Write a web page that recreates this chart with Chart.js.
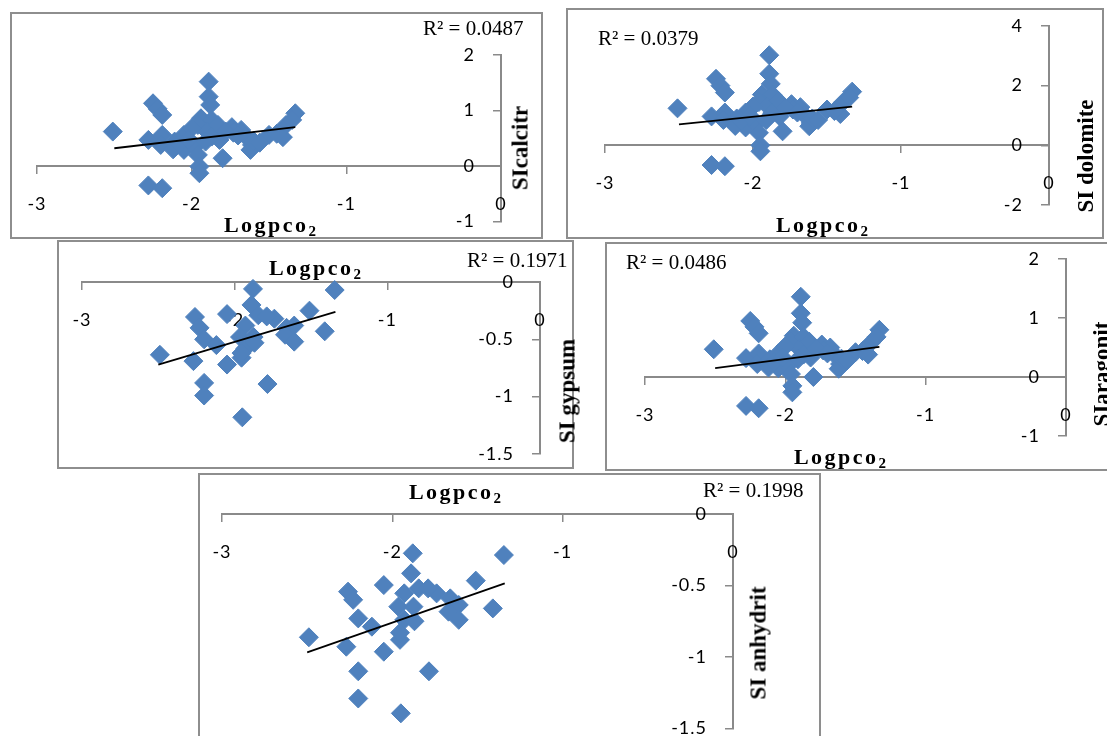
<!DOCTYPE html>
<html><head><meta charset="utf-8">
<script src="https://cdn.jsdelivr.net/npm/chart.js@4.4.1/dist/chart.umd.min.js"></script>
<style>
html,body{margin:0;padding:0;background:#fff;width:1107px;height:736px;overflow:hidden;position:relative}
.box{position:absolute;border:2px solid #8e8e8e;box-sizing:border-box;background:#fff}
canvas.layer{position:absolute;left:-200px;top:-200px}
.r2{position:absolute;font-family:"Liberation Serif",serif;font-size:21px;color:#000;white-space:nowrap;line-height:1}
.xt{position:absolute;font-family:"Liberation Serif",serif;font-weight:bold;font-size:22px;letter-spacing:2.5px;white-space:nowrap;line-height:1;transform:translate(-50%,-50%)}
.xt sub{font-size:15px;vertical-align:-4px;letter-spacing:0}
.yt{position:absolute;font-family:"Liberation Serif",serif;font-weight:bold;font-size:23px;white-space:nowrap;line-height:1;transform:translate(-50%,-50%) rotate(-90deg)}
</style></head>
<body>
<div class="box" style="left:10px;top:12px;width:533px;height:227px"></div>
<div class="box" style="left:566px;top:8px;width:538px;height:231px"></div>
<div class="box" style="left:57px;top:240px;width:517px;height:229px"></div>
<div class="box" style="left:605px;top:242px;width:510px;height:229px"></div>
<div class="box" style="left:198px;top:473px;width:623px;height:280px"></div>
<canvas class="layer" id="cA" width="1507" height="1136"></canvas>
<canvas class="layer" id="cB" width="1507" height="1136"></canvas>
<canvas class="layer" id="cC" width="1507" height="1136"></canvas>
<canvas class="layer" id="cD" width="1507" height="1136"></canvas>
<canvas class="layer" id="cE" width="1507" height="1136"></canvas>

<div class="r2" style="left:423px;top:18px">R² = 0.0487</div>
<div class="r2" style="left:598px;top:28px">R² = 0.0379</div>
<div class="r2" style="left:467px;top:250px">R² = 0.1971</div>
<div class="r2" style="left:626px;top:252px">R² = 0.0486</div>
<div class="r2" style="left:703px;top:480px">R² = 0.1998</div>

<div class="xt" style="left:270px;top:226px">Logpco<sub>2</sub></div>
<div class="xt" style="left:822px;top:226px">Logpco<sub>2</sub></div>
<div class="xt" style="left:315px;top:269px">Logpco<sub>2</sub></div>
<div class="xt" style="left:840px;top:458px">Logpco<sub>2</sub></div>
<div class="xt" style="left:455px;top:493px">Logpco<sub>2</sub></div>

<div class="yt" style="left:520px;top:148px">SIcalcitr</div>
<div class="yt" style="left:1085px;top:156px">SI dolomite</div>
<div class="yt" style="left:567px;top:391px">SI gypsum</div>
<div class="yt" style="left:1101px;top:374px">SIaragonit</div>
<div class="yt" style="left:758px;top:643px">SI anhydrit</div>

<script>
// ---- data ----
const logpco2Carb = [-2.51,-2.25,-2.22,-2.19,-2.28,-2.19,-2.28,-2.19,-2.20,-2.11,-2.05,-2.05,-1.98,-1.96,-1.95,-1.95,-1.80,-1.89,-1.89,-1.88,-1.94,-1.96,-1.87,-1.90,-1.83,-1.74,-1.68,-1.65,-1.61,-1.62,-1.50,-1.41,-1.39,-1.33,-1.35,-1.82,-1.73,-2.00,-1.87,-1.91,-2.12,-2.08,-2.02,-1.78,-1.70,-1.60,-1.56,-1.45];
const siCalcite   = [0.62,1.13,1.03,0.92,-0.35,-0.40,0.47,0.56,0.38,0.44,0.56,0.29,0.35,0.20,-0.01,-0.13,0.14,1.52,1.25,1.10,0.86,0.74,0.83,0.62,0.74,0.70,0.65,0.53,0.38,0.29,0.56,0.52,0.74,0.95,0.83,0.47,0.60,0.68,0.53,0.44,0.30,0.40,0.48,0.62,0.55,0.45,0.42,0.58];
const siDolomite  = [1.24,2.23,2.00,1.77,-0.66,-0.70,0.97,1.10,0.85,0.90,1.10,0.60,0.72,0.42,0.00,-0.20,0.47,3.02,2.40,2.06,1.70,1.45,1.70,1.30,1.50,1.38,1.28,1.00,0.75,0.64,1.20,1.05,1.45,1.80,1.60,0.97,1.20,1.30,1.08,0.85,0.65,0.82,0.98,1.25,1.10,0.90,0.85,1.15];
const siAragonite = [0.47,0.95,0.85,0.74,-0.49,-0.53,0.32,0.40,0.22,0.30,0.40,0.15,0.20,0.05,-0.15,-0.26,0.00,1.36,1.08,0.92,0.70,0.60,0.68,0.48,0.60,0.55,0.50,0.38,0.22,0.14,0.42,0.38,0.58,0.80,0.68,0.33,0.45,0.52,0.38,0.30,0.16,0.26,0.33,0.48,0.40,0.31,0.28,0.44];

const logpco2Sulf = [-2.49,-2.27,-2.20,-2.20,-1.95,-1.785,-1.88,-1.345,-1.41,-1.51,-2.05,-2.26,-2.23,-2.20,-2.12,-2.05,-1.955,-1.89,-1.845,-1.93,-1.965,-1.876,-1.93,-1.87,-1.74,-1.66,-1.61,-1.67,-1.61,-1.79,-1.955];
const siGypsum    = [-0.635,-0.69,-0.88,-0.99,-1.18,-0.89,-0.06,-0.07,-0.43,-0.25,-0.28,-0.305,-0.40,-0.50,-0.55,-0.72,-0.66,-0.20,-0.29,-0.38,-0.48,-0.48,-0.58,-0.53,-0.32,-0.40,-0.38,-0.46,-0.52,-0.30,-0.62];
const siAnhydrite = [-0.862,-0.928,-1.10,-1.29,-1.394,-1.10,-0.275,-0.287,-0.66,-0.466,-0.497,-0.543,-0.60,-0.73,-0.788,-0.963,-0.88,-0.415,-0.52,-0.555,-0.648,-0.648,-0.74,-0.75,-0.555,-0.59,-0.636,-0.683,-0.74,-0.52,-0.83];

// trendline end points (x from min to max Logpco2)
const trendXCarb = [-2.50,-1.33];
const trendXSulf = [-2.50,-1.34];
const trendCalcite   = [0.32,0.70];
const trendDolomite  = [0.70,1.30];
const trendAragonite = [0.15,0.51];
const trendGypsum    = [-0.72,-0.26];
const trendAnhydrite = [-0.967,-0.485];

// tick labels
const xTicks = [-3,-2,-1,0];
const yTicksCalcite   = [-1,0,1,2];
const yTicksDolomite  = [-2,0,2,4];
const yTicksAragonite = [-1,0,1,2];
const yTicksGypsum    = [-1.5,-1,-0.5,0];
const yTicksAnhydrite = [-1.5,-1,-0.5,0];

// ---- drawing ----
const M = 200, CW = 1507, CH = 1136;   // canvas is offset by M on the left/top
const BLUE = '#4f81bd', AX = '#8a8a8a';
const panels = [
  {id:'cA', x:logpco2Carb, y:siCalcite,   tx:trendXCarb, ty:trendCalcite,   yt:yTicksCalcite,   area:{l:37,  r:501,  t:55,   b:221.5}},
  {id:'cB', x:logpco2Carb, y:siDolomite,  tx:trendXCarb, ty:trendDolomite,  yt:yTicksDolomite,  area:{l:605, r:1049, t:26,   b:205}},
  {id:'cC', x:logpco2Sulf, y:siGypsum,    tx:trendXSulf, ty:trendGypsum,    yt:yTicksGypsum,    area:{l:82,  r:540,  t:282,  b:454}},
  {id:'cD', x:logpco2Carb, y:siAragonite, tx:trendXCarb, ty:trendAragonite, yt:yTicksAragonite, area:{l:645, r:1066, t:259,  b:436}},
  {id:'cE', x:logpco2Sulf, y:siAnhydrite, tx:trendXSulf, ty:trendAnhydrite, yt:yTicksAnhydrite, area:{l:222, r:733,  t:514,  b:728.5}}
];
const tickFont = {family:'Lato', size:18};
const fmt = v => String(v);
const LABEL_GAP = 26; // px between y labels and the y axis
const spacing = {id:'spacing', beforeDraw(c){ try { c.ctx.letterSpacing = '1px'; } catch(e){} }};
panels.forEach(p => {
  const pts = p.x.map((v,i)=>({x:v, y:p.y[i]}));
  const tr = p.tx.map((v,i)=>({x:v, y:p.ty[i]}));
  const yMin = Math.min(...p.yt), yMax = Math.max(...p.yt);
  const setX = s=>{s.ticks = xTicks.map(v=>({value:v}));};
  const setY = s=>{s.ticks = p.yt.map(v=>({value:v}));};
  const labelX = -LABEL_GAP / ((p.area.r - p.area.l) / 3);
  new Chart(document.getElementById(p.id), {
    type:'scatter',
    plugins:[spacing],
    data:{datasets:[
      {type:'line', data:tr, borderColor:'#000', borderWidth:1.8, pointRadius:0, fill:false, clip:false, order:0},
      {data:pts, pointStyle:'rectRot', pointRadius:9.5, pointHoverRadius:9.5, backgroundColor:BLUE, borderColor:BLUE, borderWidth:1, clip:false, order:1}
    ]},
    options:{
      responsive:false, animation:false, events:[],
      layout:{padding:{left:p.area.l+M, right:CW-(p.area.r+M), top:p.area.t+M, bottom:CH-(p.area.b+M)}},
      plugins:{legend:{display:false}, tooltip:{enabled:false}},
      scales:{
        x:{type:'linear', min:-3, max:0, position:{y:0}, z:0,
           afterBuildTicks:setX, afterFit:s=>{s.height=0;},
           grid:{display:true, drawOnChartArea:false, drawTicks:true, tickLength:7, color:AX, lineWidth:1.5},
           border:{display:true, color:AX, width:2},
           ticks:{display:false}},
        y:{type:'linear', min:yMin, max:yMax, position:{x:0}, z:0,
           afterBuildTicks:setY, afterFit:s=>{s.width=0;},
           grid:{display:true, drawOnChartArea:false, drawTicks:true, tickLength:7, color:AX, lineWidth:1.5},
           border:{display:true, color:AX, width:2},
           ticks:{display:false}},
        xl:{type:'linear', axis:'x', min:-3, max:0, position:{y:0}, z:1,
           afterBuildTicks:setX, afterFit:s=>{s.height=0;},
           grid:{display:true, drawOnChartArea:false, drawTicks:true, tickLength:7, color:'rgba(0,0,0,0)'},
           border:{display:false},
           ticks:{font:tickFont, color:'#000', padding:20, maxRotation:0, autoSkip:false, callback:fmt}},
        yl:{type:'linear', axis:'y', min:yMin, max:yMax, position:{x:labelX}, z:1,
           afterBuildTicks:setY, afterFit:s=>{s.width=0;},
           grid:{display:false},
           border:{display:false},
           ticks:{font:tickFont, color:'#000', padding:0, autoSkip:false, callback:fmt}}
      }
    }
  });
});
</script>
</body></html>
